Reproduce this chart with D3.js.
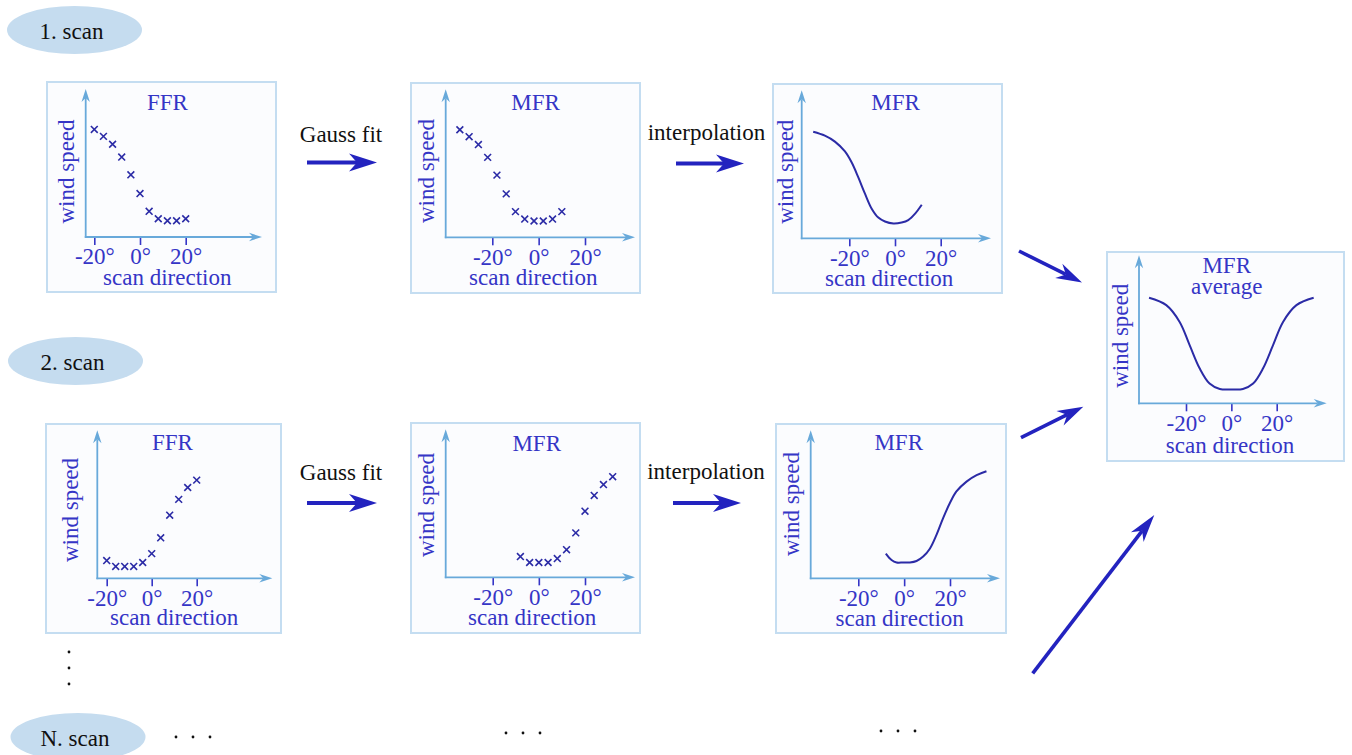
<!DOCTYPE html>
<html>
<head>
<meta charset="utf-8">
<script src="https://cdn.jsdelivr.net/npm/d3@7"></script>
<style>
  html, body { margin: 0; padding: 0; background: #ffffff; }
  svg { display: block; }
  text { font-family: "Liberation Serif", "Times New Roman", serif; }
</style>
</head>
<body>
<svg id="chart" width="1352" height="755"></svg>
<script>
// ---- data: scan direction (deg) and wind speed (arbitrary units) ----
const ffr1Dir   = [-20, -16, -12, -8, -4, 0, 4, 8, 12, 16, 20];
const ffr1Speed = [10.9, 10.2, 9.4, 8.1, 6.3, 4.4, 2.6, 1.85, 1.65, 1.65, 1.85];

const mfr1Dir   = [-34, -30, -26, -22, -18, -14, -10, -6, -2, 2, 6, 10];
const mfr1Speed = [10.9, 10.2, 9.4, 8.1, 6.3, 4.4, 2.6, 1.85, 1.65, 1.65, 1.85, 2.6];

const mfr1CurveDir   = [-35.8, -30.7, -26.3, -21.9, -19, -16.1, -13.1, -10.2, -7.3, -4.4, -0.7, 2.9, 5.8, 8.8, 11.7];
const mfr1CurveSpeed = [10.8, 10.4, 9.8, 8.8, 7.7, 6.2, 4.5, 3.0, 2.1, 1.7, 1.5, 1.6, 1.85, 2.5, 3.4];

const ffr2Dir   = [-20, -16, -12, -8, -4, 0, 4, 8, 12, 16, 20];
const ffr2Speed = [1.8, 1.2, 1.2, 1.2, 1.6, 2.5, 4.1, 6.4, 8.0, 9.2, 9.95];

const mfr2Dir   = [-8, -4, 0, 4, 8, 12, 16, 20, 24, 28, 32];
const mfr2Speed = [2.1, 1.5, 1.5, 1.5, 1.9, 2.8, 4.5, 6.7, 8.3, 9.4, 10.2];

const mfr2CurveDir   = [-8, -5.5, -3.3, -0.4, 2.5, 5.4, 8.3, 11.2, 14.1, 17, 19.9, 22.8, 27.2, 31.6, 35.9];
const mfr2CurveSpeed = [2.5, 1.85, 1.6, 1.6, 1.6, 1.75, 2.2, 3.0, 4.4, 6.1, 7.6, 8.8, 9.8, 10.45, 10.85];

const avgCurveDir   = [-36.3, -28.7, -22.8, -18.4, -14, -9.6, -5.1, 0, 5.1, 9.6, 14, 18.4, 22.8, 28.7, 36.3];
const avgCurveSpeed = [10.7, 9.95, 8.25, 5.9, 3.55, 2.0, 1.45, 1.4, 1.45, 2.0, 3.55, 5.9, 8.25, 9.95, 10.7];

const tickValues = [-20, 0, 20];
const tickLabels = ["-20°", "0°", "20°"];
const yLabel = "wind speed";
const xLabel = "scan direction";
const scanLabels = ["1. scan", "2. scan", "N. scan"];
const stepLabels = ["Gauss fit", "interpolation"];

// ---- styling ----
const TEXT_BLUE = "#3535c6";
const MARK_BLUE = "#2b2ba6";
const AXIS_BLUE = "#68a9da";
const BOX_STROKE = "#c4ddf1";
const ARROW_BLUE = "#2323bf";
const FONT = 23;

const svg = d3.select("#chart");

// ---- panel layout ----
const panels = [
  { box: [47, 82, 229, 210], ox: 85.7, base: 237, x20: [94.3, 185.7], tip: 262,
    title: ["FFR"], tx: 167.5, ty: 110, lx: 167.3, ly: 285, yx: 73.5, yy: 171.5,
    points: [ffr1Dir, ffr1Speed] },
  { box: [411, 83, 229, 210], ox: 445.7, base: 237.3, x20: [492.3, 585], tip: 635,
    title: ["MFR"], tx: 535.5, ty: 110, lx: 533.3, ly: 285, yx: 433.5, yy: 171,
    points: [mfr1Dir, mfr1Speed] },
  { box: [773, 84, 229, 209], ox: 801.7, base: 238.3, x20: [849.3, 940.7], tip: 991,
    title: ["MFR"], tx: 895.5, ty: 110, lx: 889.2, ly: 286, yx: 792.5, yy: 171.7,
    curve: [mfr1CurveDir, mfr1CurveSpeed] },
  { box: [1107, 252, 237, 209], ox: 1139, base: 403.3, x20: [1186, 1276.7], tip: 1326.7,
    title: ["MFR", "average"], tx: 1226.7, ty: 273.3, lx: 1230, ly: 453, yx: 1127.5, yy: 335.8,
    curve: [avgCurveDir, avgCurveSpeed] },
  { box: [46, 424, 235, 209], ox: 97.3, base: 578.3, x20: [106.7, 196.7], tip: 272.3,
    title: ["FFR"], tx: 172.5, ty: 450, lx: 174.2, ly: 625, yx: 77.5, yy: 510,
    points: [ffr2Dir, ffr2Speed] },
  { box: [411, 423, 229, 210], ox: 445.7, base: 577.3, x20: [492.7, 585], tip: 635,
    title: ["MFR"], tx: 536.7, ty: 451, lx: 532.2, ly: 625, yx: 433.5, yy: 505,
    points: [mfr2Dir, mfr2Speed] },
  { box: [776, 424, 230, 209], ox: 810.7, base: 578.3, x20: [858.3, 950], tip: 1000,
    title: ["MFR"], tx: 898.7, ty: 450, lx: 899.7, ly: 626, yx: 799, yy: 504,
    curve: [mfr2CurveDir, mfr2CurveSpeed] }
];

const Y_MAX = 15;      // wind speed at the top of the y axis
const Y_LEN = 148;     // pixel length of the y axis

// Stealth-style arrow head pointing along +x, tip at origin
function headPath(len, half, notch) {
  return `M0,0L${-len},${-half}L${-len + notch},0L${-len},${half}Z`;
}

function drawArrow(g, x1, y1, x2, y2, opt) {
  const ang = Math.atan2(y2 - y1, x2 - x1) * 180 / Math.PI;
  const back = opt.len - opt.notch;
  const dx = Math.cos(ang * Math.PI / 180), dy = Math.sin(ang * Math.PI / 180);
  g.append("line")
    .attr("x1", x1).attr("y1", y1)
    .attr("x2", x2 - dx * back).attr("y2", y2 - dy * back)
    .attr("stroke", opt.color).attr("stroke-width", opt.width)
    .attr("stroke-linecap", "butt");
  g.append("path")
    .attr("d", headPath(opt.len, opt.half, opt.notch))
    .attr("transform", `translate(${x2},${y2}) rotate(${ang})`)
    .attr("fill", opt.color);
}

panels.forEach(p => {
  const g = svg.append("g");
  const [bx, by, bw, bh] = p.box;

  g.append("rect")
    .attr("x", bx).attr("y", by).attr("width", bw).attr("height", bh)
    .attr("fill", "#fbfcfe").attr("stroke", BOX_STROKE).attr("stroke-width", 2);

  const x = d3.scaleLinear().domain([-20, 20]).range(p.x20);
  const y = d3.scaleLinear().domain([0, Y_MAX]).range([p.base, p.base - Y_LEN]);

  // ticks and tick labels
  const axis = d3.axisBottom(x)
    .tickValues(tickValues)
    .tickFormat((d, i) => tickLabels[i])
    .tickSize(8).tickPadding(3);
  const ag = g.append("g").attr("transform", `translate(0,${p.base})`).call(axis);
  ag.select(".domain").remove();
  ag.selectAll(".tick line").attr("stroke", TEXT_BLUE).attr("stroke-width", 1.6);
  ag.selectAll(".tick text")
    .attr("fill", TEXT_BLUE)
    .style("font-family", '"Liberation Serif", serif')
    .style("font-size", FONT + "px");

  // axis lines with arrow heads
  const axOpt = { color: AXIS_BLUE, width: 1.8, len: 13, half: 4.2, notch: 4 };
  drawArrow(g, p.ox, p.base + 0.9, p.ox, y(Y_MAX), axOpt);
  drawArrow(g, p.ox - 0.9, p.base, p.tip, p.base, axOpt);

  // titles
  p.title.forEach((t, i) => {
    g.append("text")
      .attr("x", p.tx).attr("y", p.ty + i * 20.5)
      .attr("text-anchor", "middle")
      .attr("fill", TEXT_BLUE).attr("font-size", FONT)
      .text(t);
  });

  // axis labels
  g.append("text")
    .attr("x", p.lx).attr("y", p.ly)
    .attr("text-anchor", "middle")
    .attr("fill", TEXT_BLUE).attr("font-size", FONT)
    .text(xLabel);
  g.append("text")
    .attr("transform", `translate(${p.yx},${p.yy}) rotate(-90)`)
    .attr("text-anchor", "middle")
    .attr("fill", TEXT_BLUE).attr("font-size", FONT)
    .text(yLabel);

  // measured points as crosses
  if (p.points) {
    const pts = p.points[0].map((d, i) => ({ dir: d, v: p.points[1][i] }));
    g.selectAll("path.mark").data(pts).enter().append("path")
      .attr("class", "mark")
      .attr("d", d3.symbol().type(d3.symbolX).size(32))
      .attr("transform", d => `translate(${x(d.dir)},${y(d.v)})`)
      .attr("fill", "none").attr("stroke", MARK_BLUE).attr("stroke-width", 1.6);
  }

  // interpolated profile
  if (p.curve) {
    const pts = p.curve[0].map((d, i) => ({ dir: d, v: p.curve[1][i] }));
    const line = d3.line().x(d => x(d.dir)).y(d => y(d.v)).curve(d3.curveCatmullRom.alpha(0.5));
    g.append("path").datum(pts)
      .attr("d", line)
      .attr("fill", "none").attr("stroke", MARK_BLUE).attr("stroke-width", 2);
  }
});

// ---- scan labels ----
const ellipses = [
  { cx: 74.5, cy: 30, ty: 38.5 },
  { cx: 75.5, cy: 361, ty: 369.5 },
  { cx: 78, cy: 737, ty: 745.5 }
];
ellipses.forEach((e, i) => {
  svg.append("ellipse")
    .attr("cx", e.cx).attr("cy", e.cy).attr("rx", 67.5).attr("ry", 24)
    .attr("fill", "#c5dcef");
  svg.append("text")
    .attr("x", e.cx - 3).attr("y", e.ty)
    .attr("text-anchor", "middle")
    .attr("fill", "#111").attr("font-size", FONT)
    .text(scanLabels[i]);
});

// ---- processing-step arrows ----
const stepArrows = [
  { x1: 307, y1: 162.5, x2: 377, y2: 162.5, label: 0, lx: 341, ly: 141.5 },
  { x1: 676, y1: 163.5, x2: 744, y2: 163.5, label: 1, lx: 706.5, ly: 140 },
  { x1: 307, y1: 503, x2: 377, y2: 503, label: 0, lx: 341, ly: 480 },
  { x1: 673, y1: 503, x2: 741, y2: 503, label: 1, lx: 706, ly: 479 }
];
const bigArrow = { color: ARROW_BLUE, width: 4, len: 28, half: 9, notch: 8 };
stepArrows.forEach(a => {
  drawArrow(svg, a.x1, a.y1, a.x2, a.y2, bigArrow);
  svg.append("text")
    .attr("x", a.lx).attr("y", a.ly)
    .attr("text-anchor", "middle")
    .attr("fill", "#111").attr("font-size", FONT)
    .text(stepLabels[a.label]);
});

// arrows collecting into the averaged profile
drawArrow(svg, 1019, 251, 1082, 282.5, { ...bigArrow, width: 3.6, len: 26, half: 8 });
drawArrow(svg, 1021, 437.7, 1083.3, 406.7, { ...bigArrow, width: 3.6, len: 26, half: 8 });
drawArrow(svg, 1032.7, 673.3, 1154.3, 515, { ...bigArrow, width: 3.6, len: 28, half: 8 });

// ---- ellipsis dots ----
const dotRows = [
  [[176, 737], [193, 737], [210, 737]],
  [[506, 733], [523, 733], [540, 733]],
  [[881, 731], [898, 731], [915, 731]],
  [[69, 652], [69, 668], [69, 684]]
];
dotRows.flat().forEach(([cx, cy]) => {
  svg.append("circle").attr("cx", cx).attr("cy", cy).attr("r", 1.4).attr("fill", "#111");
});
</script>
</body>
</html>
